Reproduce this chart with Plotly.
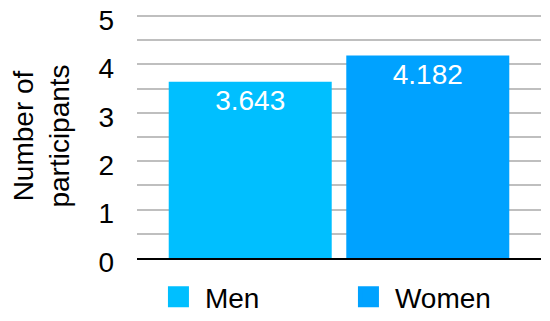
import plotly.graph_objects as go

# data
groups = ["Men", "Women"]
values = [3.643, 4.182]
colors = ["#00BFFF", "#00A2FF"]
y_ticks = [0, 1, 2, 3, 4, 5]
y_minor = [0.5, 1.5, 2.5, 3.5, 4.5]

FONT = "Liberation Sans, Arial, sans-serif"

fig = go.Figure()

for name, val, col in zip(groups, values, colors):
    fig.add_trace(go.Bar(
        x=[""],
        y=[val],
        name=name,
        showlegend=False,
        marker=dict(color=col, line=dict(width=0)),
        text=[f"{val:.3f}"],
        textposition="inside",
        insidetextanchor="end",
        insidetextfont=dict(color="white", size=28, family=FONT),
    ))

# legend entries with bigger square swatches
for name, col in zip(groups, colors):
    fig.add_trace(go.Scatter(
        x=[None], y=[None],
        mode="markers",
        name=name,
        marker=dict(symbol="square", size=16, color=col,
                    line=dict(color=col, width=5)),
    ))

fig.update_layout(
    width=550,
    height=321,
    margin=dict(l=137, r=9, t=14, b=63, autoexpand=False),
    paper_bgcolor="white",
    plot_bgcolor="white",
    font=dict(family=FONT, size=28, color="black"),
    barmode="group",
    bargap=0.121,
    bargroupgap=0.082,
    showlegend=True,
    legend=dict(
        orientation="h",
        x=0.037, xanchor="left",
        y=0.075, yanchor="middle",
        yref="container",
        font=dict(size=28),
        entrywidth=132,
        entrywidthmode="pixels",
        itemwidth=43,
        itemsizing="trace",
        tracegroupgap=0,
    ),
    xaxis=dict(
        showticklabels=False,
        showgrid=False,
        zeroline=False,
        showline=True,
        linecolor="black",
        linewidth=2,
    ),
    yaxis=dict(
        range=[0, 5.04],
        tickmode="array",
        tickvals=y_ticks,
        ticks="",
        ticklabelstandoff=22,
        ticklabelshift=4,
        ticklabeloverflow="allow",
        showgrid=True,
        gridcolor="#BFBFBF",
        gridwidth=2,
        minor=dict(tickmode="array", tickvals=y_minor,
                   showgrid=True, gridcolor="#BFBFBF", gridwidth=2),
        zeroline=False,
        showline=False,
        title=dict(text="Number of<br>participants", standoff=20, font=dict(size=28)),
    ),
)

# drop the default 8px body margin so the figure fills the window; no modebar
fig.write_html("out.html", config={"displayModeBar": False},
               post_script="document.body.style.margin = '0';")
